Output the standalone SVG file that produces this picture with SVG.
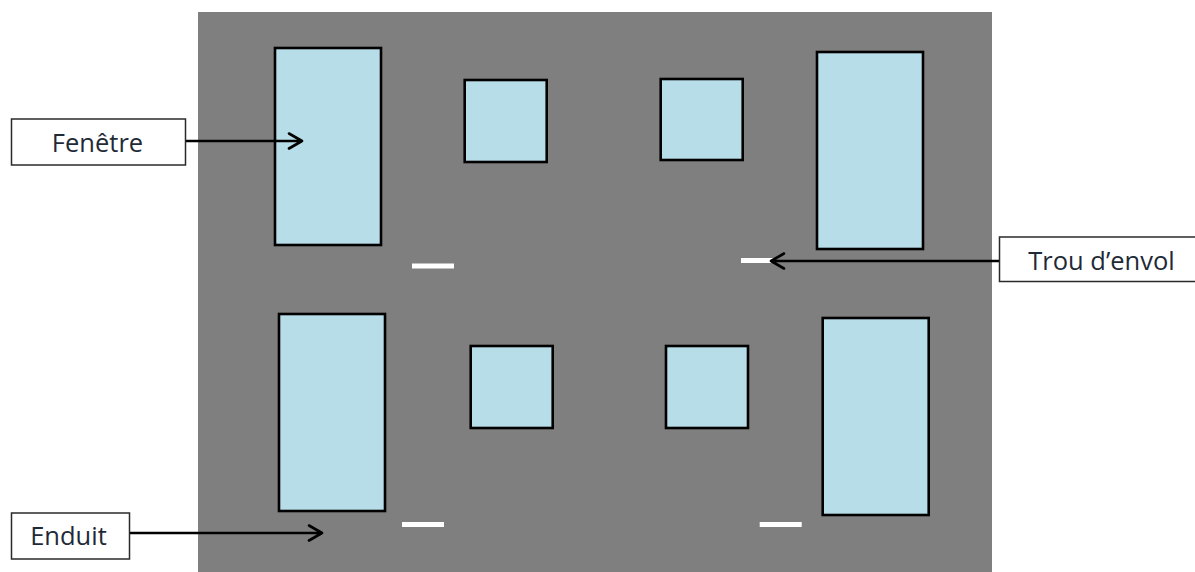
<svg xmlns="http://www.w3.org/2000/svg" width="1195" height="572" viewBox="0 0 1195 572">
<style>
.win{fill:#b7dde8;stroke:#000;stroke-width:2.6}
.hole{fill:#fff}
.lab{fill:#fff;stroke:#2a2a2a;stroke-width:1.5}
text{font-family:"Open Sans","Noto Sans",sans-serif;font-size:25.500px;fill:#1f2a38;text-anchor:middle}
.arr{fill:none;stroke:#000;stroke-width:2.600;stroke-linecap:round;stroke-linejoin:round}
</style>
<rect id="facade" x="198" y="12" width="794" height="560" fill="#7f7f7f"/>
<g id="window-1"><rect class="win" x="275" y="48" width="106" height="197"/></g>
<g id="window-2"><rect class="win" x="464.700" y="80" width="82" height="82"/></g>
<g id="window-3"><rect class="win" x="660.700" y="79" width="82" height="81"/></g>
<g id="window-4"><rect class="win" x="817" y="52" width="106" height="197"/></g>
<g id="window-5"><rect class="win" x="279" y="314" width="106" height="197"/></g>
<g id="window-6"><rect class="win" x="470.700" y="346" width="82" height="82"/></g>
<g id="window-7"><rect class="win" x="666" y="346" width="82" height="82"/></g>
<g id="window-8"><rect class="win" x="822.700" y="318" width="106" height="197"/></g>
<g id="hole-1"><rect class="hole" x="412" y="263.500" width="42" height="5"/></g>
<g id="hole-2"><rect class="hole" x="741" y="258" width="32" height="5"/></g>
<g id="hole-3"><rect class="hole" x="402" y="522" width="42" height="5"/></g>
<g id="hole-4"><rect class="hole" x="759.700" y="522" width="42" height="5"/></g>
<g id="connectors">
<path class="arr" d="M186 141H302M289 133.500L302 141L289 148.500"/>
<path class="arr" d="M999 261H771M784 253.500L771 261L784 268.500"/>
<path class="arr" d="M130 533H322M309 525.500L322 533L309 540.500"/>
</g>
<g id="label-fenetre"><rect class="lab" x="11.500" y="119" width="174" height="46"/><text x="97.500" y="151.500">Fenêtre</text></g>
<g id="label-trou"><rect class="lab" x="999.500" y="237" width="200" height="44.500"/><text x="1101.500" y="269.500">Trou d’envol</text></g>
<g id="label-enduit"><rect class="lab" x="11.500" y="513" width="118" height="46"/><text x="68.500" y="544.500">Enduit</text></g>
</svg>
